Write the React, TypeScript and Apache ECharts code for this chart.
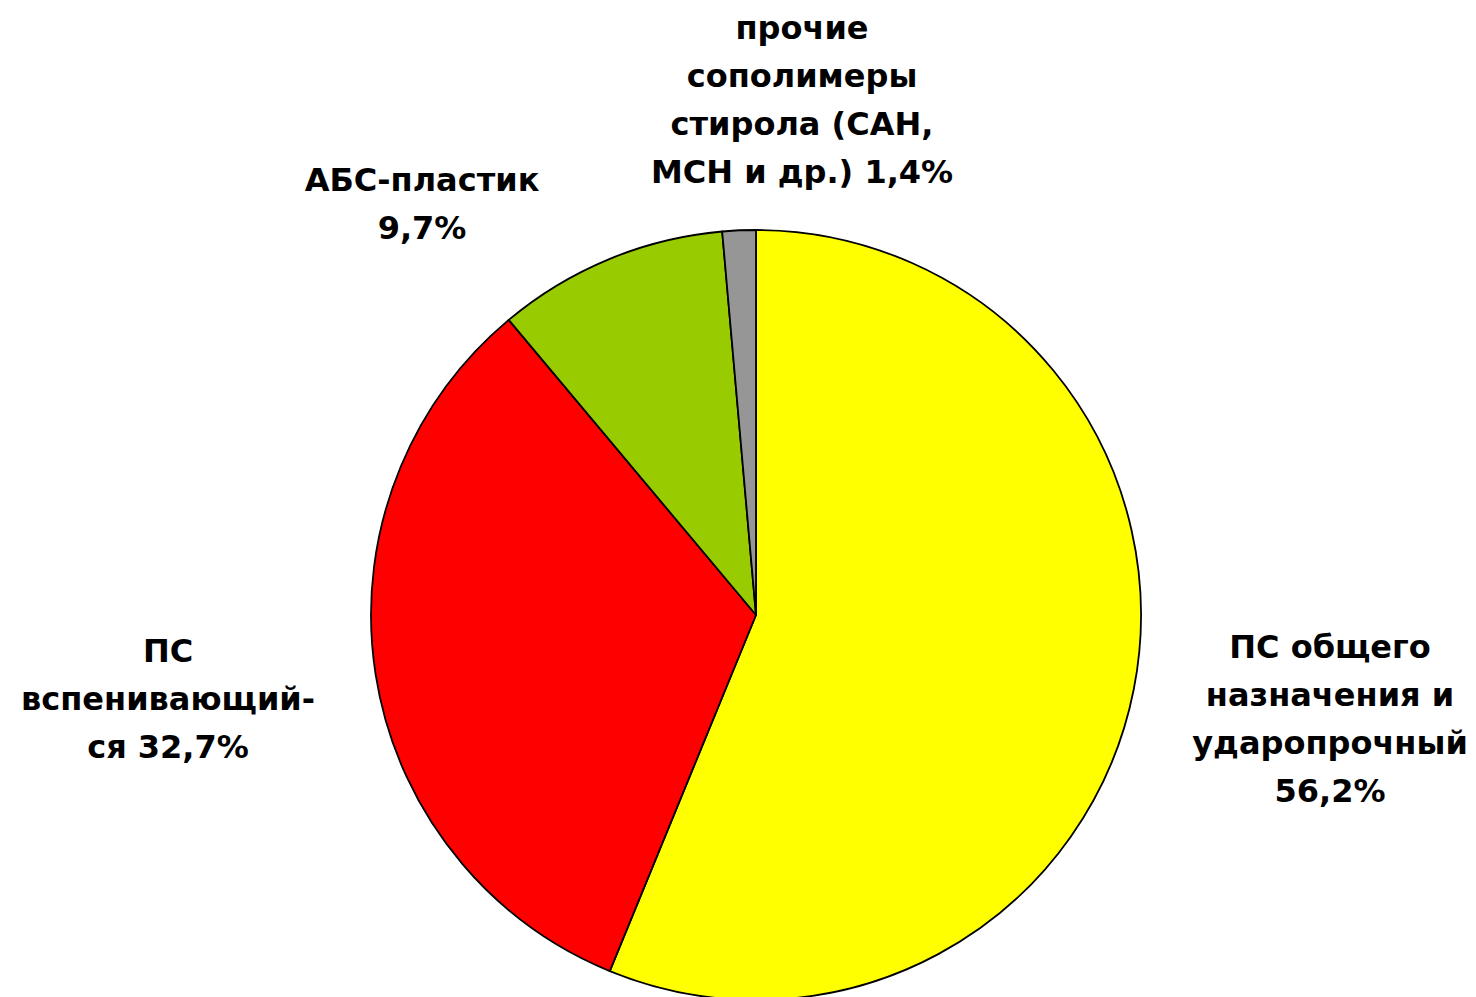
import React, { useEffect, useRef } from "react";
import * as echarts from "echarts";

const categories = [
  "ПС общего\nназначения и\nударопрочный",
  "ПС\nвспенивающий-\nся",
  "АБС-пластик",
  "прочие\nсополимеры\nстирола (САН,\nМСН и др.)",
];
const values = [56.2, 32.7, 9.7, 1.4];
const colors = ["#FFFF00", "#FF0000", "#99CC00", "#969696"];
// label texts (how the value joins the name)
const joiners = ["\n", " ", "\n", " "];
// label anchor points (centre x, top y)
const labelPos = [
  [1330, 623],
  [168, 627],
  [422, 156],
  [802, 4],
];

export default function App() {
  const ref = useRef<HTMLDivElement>(null);
  useEffect(() => {
    if (!ref.current) return;
    const chart = echarts.init(ref.current, null, { renderer: "svg" });
    chart.setOption({
      animation: false,
      backgroundColor: "#ffffff",
      series: [
        {
          type: "pie",
          center: [756, 615],
          radius: [0, 385],
          startAngle: 90,
          clockwise: true,
          avoidLabelOverlap: false,
          data: categories.map((name, i) => ({
            name,
            value: values[i],
            itemStyle: { color: colors[i] },
          })),
          itemStyle: { borderColor: "#000000", borderWidth: 1.8 },
          label: {
            show: true,
            position: "outside",
            formatter: (p: any) =>
              p.name + joiners[p.dataIndex] + String(p.value).replace(".", ",") + "%",
            fontFamily: "DejaVu Sans, sans-serif",
            fontWeight: "bold",
            fontSize: 32,
            lineHeight: 48,
            color: "#000000",
            align: "center",
          },
          labelLine: { show: false },
          labelLayout: (params: any) => ({
            x: labelPos[params.dataIndex][0],
            y: labelPos[params.dataIndex][1],
            align: "center",
            verticalAlign: "top",
          }),
          emphasis: { disabled: true },
        },
      ],
    });
    return () => chart.dispose();
  }, []);
  return (
    <div
      ref={ref}
      style={{ position: "fixed", left: 0, top: 0, width: 1476, height: 997 }}
    />
  );
}
